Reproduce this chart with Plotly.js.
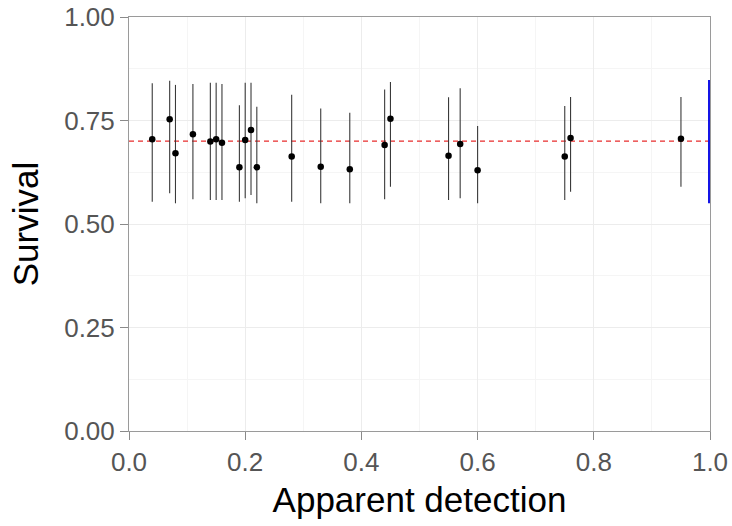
<!DOCTYPE html>
<html>
<head>
<meta charset="utf-8">
<script src="https://cdn.plot.ly/plotly-3.0.1.min.js"></script>
<style>
html,body{margin:0;padding:0;background:#fff;}
#chart{width:732px;height:526px;}
</style>
</head>
<body>
<div id="chart"></div>
<script>
// Apparent detection of each estimate
var detection = [0.04,0.07,0.08,0.11,0.14,0.15,0.16,0.19,0.20,0.21,0.22,0.28,0.33,0.38,0.44,0.45,0.55,0.57,0.60,0.75,0.76,0.95];
// Estimated survival
var survival  = [0.705,0.753,0.671,0.717,0.699,0.705,0.696,0.637,0.703,0.727,0.637,0.663,0.638,0.632,0.691,0.754,0.665,0.693,0.630,0.663,0.708,0.706];
// Confidence interval bounds
var upper     = [0.840,0.846,0.836,0.838,0.841,0.841,0.838,0.787,0.841,0.841,0.783,0.812,0.779,0.769,0.825,0.843,0.806,0.828,0.737,0.785,0.807,0.807];
var lower     = [0.554,0.574,0.550,0.560,0.558,0.558,0.558,0.554,0.562,0.570,0.550,0.554,0.550,0.550,0.560,0.590,0.558,0.562,0.550,0.558,0.578,0.590];
// True survival reference line
var trueSurvival = 0.70;
var refX = [0, 1];
// Interval at full detection (blue bar)
var fullDetection = [1.0];
var fullLower = [0.550];
var fullUpper = [0.848];

var errPlus = upper.map(function(u,i){return u - survival[i];});
var errMinus = lower.map(function(l,i){return survival[i] - l;});
var fullMid = [(fullLower[0] + fullUpper[0]) / 2];

var traces = [
  {
    x: refX, y: refX.map(function(){return trueSurvival;}),
    type: 'scatter', mode: 'lines',
    line: {color: 'rgb(232,45,45)', width: 1.3, dash: '5px,4px'},
    hoverinfo: 'skip'
  },
  {
    x: detection, y: survival,
    type: 'scatter', mode: 'markers',
    marker: {color: '#000', size: 6.5},
    error_y: {type: 'data', symmetric: false, array: errPlus, arrayminus: errMinus,
              color: '#3a3a3a', thickness: 1.1, width: 0}
  },
  {
    x: fullDetection, y: fullMid,
    type: 'scatter', mode: 'markers',
    marker: {color: 'rgba(0,0,0,0)', size: 1},
    cliponaxis: false,
    error_y: {type: 'data', symmetric: false,
              array: [fullUpper[0] - fullMid[0]], arrayminus: [fullMid[0] - fullLower[0]],
              color: 'rgb(20,20,230)', thickness: 4, width: 0}
  }
];

var axisCommon = {
  showline: true, mirror: true, linecolor: '#9a9a9a', linewidth: 1,
  ticks: 'outside', ticklen: 8, tickcolor: '#8a8a8a', tickwidth: 1,
  showgrid: true, gridcolor: '#ececec', gridwidth: 1,
  zeroline: false,
  tickfont: {family: 'Liberation Sans, Arial, sans-serif', size: 26, color: '#555'}
};

var layout = {
  width: 732, height: 526,
  margin: {l: 129, r: 22, t: 17, b: 95},
  paper_bgcolor: '#fff', plot_bgcolor: '#fff',
  showlegend: false,
  xaxis: Object.assign({}, axisCommon, {
    range: [0, 1], tickvals: [0, 0.2, 0.4, 0.6, 0.8, 1.0],
    ticktext: ['0.0','0.2','0.4','0.6','0.8','1.0'],
    minor: {tickvals: [0.1,0.3,0.5,0.7,0.9], showgrid: true, gridcolor: '#f5f5f5', ticks: ''},
    title: {text: 'Apparent detection', standoff: 11,
            font: {family: 'Liberation Sans, Arial, sans-serif', size: 35, color: '#000'}}
  }),
  yaxis: Object.assign({}, axisCommon, {
    range: [0, 1], tickvals: [0, 0.25, 0.5, 0.75, 1.0],
    ticktext: ['0.00','0.25','0.50','0.75','1.00'],
    minor: {tickvals: [0.125,0.375,0.625,0.875], showgrid: true, gridcolor: '#f5f5f5', ticks: ''},
    title: {text: 'Survival', standoff: 14,
            font: {family: 'Liberation Sans, Arial, sans-serif', size: 35, color: '#000'}}
  })
};

Plotly.newPlot('chart', traces, layout, {displayModeBar: false, staticPlot: true});
</script>
</body>
</html>
